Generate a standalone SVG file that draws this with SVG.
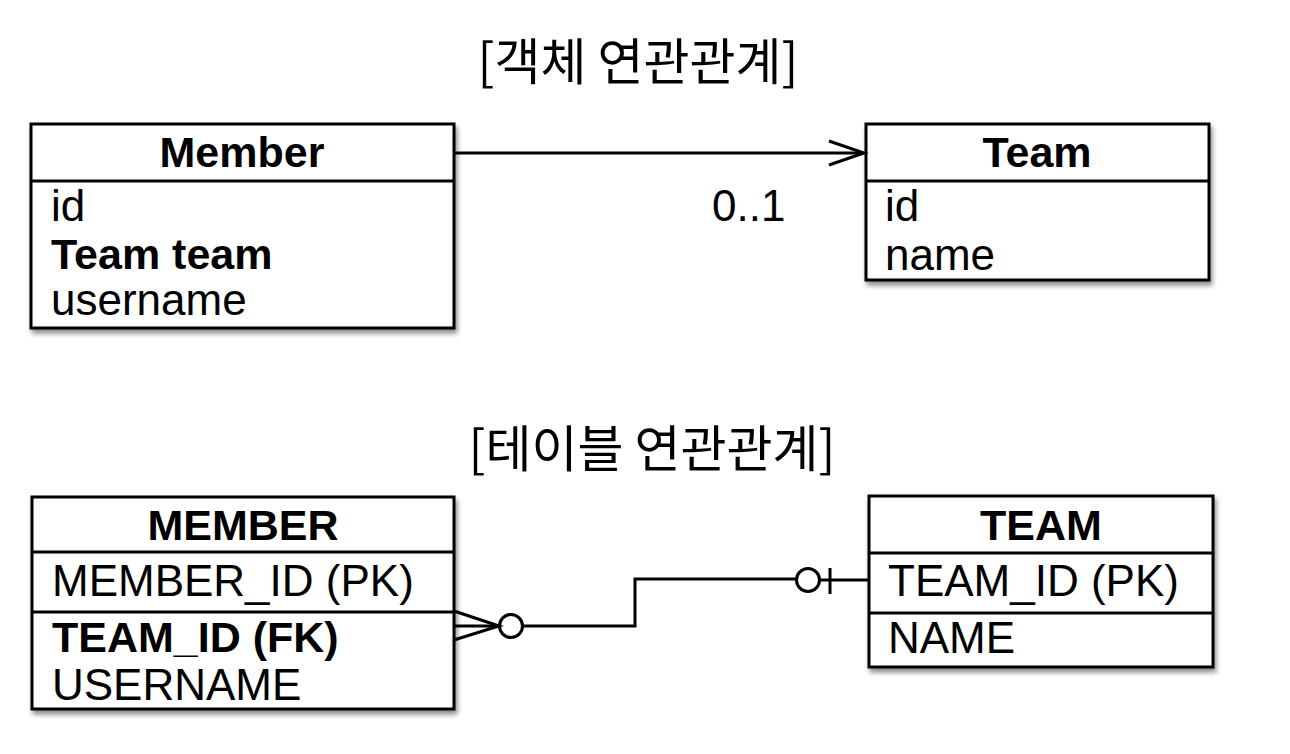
<svg xmlns="http://www.w3.org/2000/svg" width="1290" height="754" viewBox="0 0 1290 754">
<style>
.box{fill:#fff;stroke:#000;stroke-width:3}
.div{stroke:#000;stroke-width:3;fill:none}
.t{font-family:"Liberation Sans",Arial,sans-serif;font-size:44px;fill:#000}
.b{font-weight:bold;font-size:43px}
.h{text-anchor:middle}
.title{font-family:"Noto Sans CJK KR","Noto Sans",sans-serif;font-size:50px;font-weight:400;fill:#000;text-anchor:middle}
.conn{stroke:#000;stroke-width:3;fill:none}
</style>
<defs>
<filter id="sh" x="-10%" y="-10%" width="130%" height="130%">
<feDropShadow dx="2" dy="4" stdDeviation="2.5" flood-color="#000" flood-opacity="0.45"/>
</filter>
</defs>
<rect width="1290" height="754" fill="#fff"/>
<text class="title" x="638" y="80">[객체 연관관계]</text>
<text class="title" x="652" y="467">[테이블 연관관계]</text>

<g id="member">
<rect class="box" x="31" y="124" width="423" height="204" filter="url(#sh)"/>
<line class="div" x1="31" y1="181" x2="454" y2="181"/>
<text class="t b h" x="242" y="167">Member</text>
<text class="t" x="51" y="221">id</text>
<text class="t b" x="51" y="269">Team team</text>
<text class="t" x="51" y="315">username</text>
</g>

<g id="team">
<rect class="box" x="866" y="124" width="343" height="156" filter="url(#sh)"/>
<line class="div" x1="866" y1="181" x2="1209" y2="181"/>
<text class="t b h" x="1037" y="167">Team</text>
<text class="t" x="885" y="221">id</text>
<text class="t" x="885" y="270">name</text>
</g>

<g id="MEMBER">
<rect class="box" x="32" y="497" width="422" height="212" filter="url(#sh)"/>
<line class="div" x1="32" y1="552" x2="454" y2="552"/>
<line class="div" x1="32" y1="612" x2="454" y2="612"/>
<text class="t b h" x="243" y="540">MEMBER</text>
<text class="t" x="52" y="596">MEMBER_ID (PK)</text>
<text class="t b" x="52" y="652">TEAM_ID (FK)</text>
<text class="t" x="52" y="700">USERNAME</text>
</g>

<g id="TEAM">
<rect class="box" x="869" y="496" width="344" height="171" filter="url(#sh)"/>
<line class="div" x1="869" y1="553" x2="1213" y2="553"/>
<line class="div" x1="869" y1="613" x2="1213" y2="613"/>
<text class="t b h" x="1041" y="540">TEAM</text>
<text class="t" x="888" y="596">TEAM_ID (PK)</text>
<text class="t" x="888" y="653">NAME</text>
</g>

<g id="connectors">
<line class="conn" x1="454" y1="153" x2="863" y2="153"/>
<polyline class="conn" points="829,141 864,153 829,165"/>
<text class="t" x="712" y="221">0..1</text>

<line class="conn" x1="454" y1="626" x2="499" y2="626"/>
<polyline class="conn" points="454,611 499,626 454,640"/>
<circle class="conn" cx="511" cy="626" r="11.5"/>
<polyline class="conn" points="523,626 635,626 635,579 797,579"/>
<circle class="conn" cx="808" cy="580" r="11.5"/>
<line class="conn" x1="820" y1="580" x2="869" y2="580"/>
<line class="conn" x1="830" y1="568" x2="830" y2="594"/>
</g>
</svg>
